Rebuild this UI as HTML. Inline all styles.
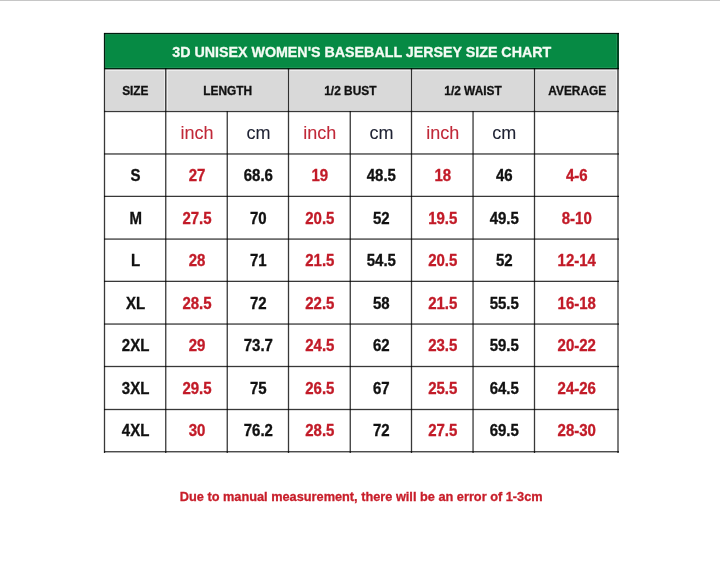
<!DOCTYPE html>
<html><head><meta charset="utf-8"><style>
html,body{margin:0;padding:0;background:#fff;width:720px;height:561px;overflow:hidden}
body{position:relative;font-family:"Liberation Sans",sans-serif}
.a{position:absolute}
.t{position:absolute;text-align:center;white-space:nowrap;display:flex;align-items:center;justify-content:center}
.v{position:absolute;width:1px;background:#222}
.h{position:absolute;height:1px;background:#222}
.b{font-weight:bold}
.t span{-webkit-text-stroke:var(--s,0.3px) currentColor;filter:blur(0.3px)}
</style></head><body>
<div class="a" style="left:104px;top:33px;width:515px;height:36px;background:#068a44"></div>
<div class="a" style="left:104px;top:69px;width:515px;height:42px;background:#d9d9d9"></div>
<div class="a" style="left:0;top:0;width:720px;height:1px;background:#c6c6c6"></div>
<div class="a" style="left:105px;top:70px;width:512px;height:1px;background:#ececec"></div>
<div class="a" style="left:105px;top:110px;width:512px;height:1px;background:#ececec"></div>
<div class="a" style="left:105px;top:70px;width:1px;height:41px;background:#ececec"></div>
<div class="a" style="left:164px;top:70px;width:1px;height:41px;background:#ececec"></div>
<div class="a" style="left:167px;top:70px;width:1px;height:41px;background:#ececec"></div>
<div class="a" style="left:287px;top:70px;width:1px;height:41px;background:#ececec"></div>
<div class="a" style="left:289px;top:70px;width:1px;height:41px;background:#ececec"></div>
<div class="a" style="left:410px;top:70px;width:1px;height:41px;background:#ececec"></div>
<div class="a" style="left:412px;top:70px;width:1px;height:41px;background:#ececec"></div>
<div class="a" style="left:533px;top:70px;width:1px;height:41px;background:#ececec"></div>
<div class="a" style="left:535px;top:70px;width:1px;height:41px;background:#ececec"></div>
<div class="a" style="left:616px;top:70px;width:1px;height:41px;background:#ececec"></div>
<div class="a" style="left:105px;top:34px;width:512px;height:1px;background:#1a9454"></div>
<div class="a" style="left:105px;top:67px;width:512px;height:1px;background:#1a9454"></div>
<div class="a" style="left:105px;top:34px;width:1px;height:34px;background:#1a9454"></div>
<div class="a" style="left:616px;top:34px;width:1px;height:34px;background:#1a9454"></div>
<div class="a" style="left:104px;top:32px;width:515px;height:1px;background:rgba(0,0,0,0.117)"></div>
<div class="a" style="left:104px;top:33px;width:515px;height:1px;background:rgba(0,0,0,0.780)"></div>
<div class="a" style="left:104px;top:34px;width:515px;height:1px;background:rgba(0,0,0,0.117)"></div>
<div class="a" style="left:104px;top:68px;width:515px;height:1px;background:rgba(0,0,0,0.741)"></div>
<div class="a" style="left:104px;top:69px;width:515px;height:1px;background:rgba(0,0,0,0.273)"></div>
<div class="a" style="left:104px;top:110px;width:515px;height:1px;background:rgba(0,0,0,0.117)"></div>
<div class="a" style="left:104px;top:111px;width:515px;height:1px;background:rgba(0,0,0,0.780)"></div>
<div class="a" style="left:104px;top:112px;width:515px;height:1px;background:rgba(0,0,0,0.117)"></div>
<div class="a" style="left:104px;top:153px;width:515px;height:1px;background:rgba(0,0,0,0.530)"></div>
<div class="a" style="left:104px;top:154px;width:515px;height:1px;background:rgba(0,0,0,0.484)"></div>
<div class="a" style="left:104px;top:195px;width:515px;height:1px;background:rgba(0,0,0,0.203)"></div>
<div class="a" style="left:104px;top:196px;width:515px;height:1px;background:rgba(0,0,0,0.780)"></div>
<div class="a" style="left:104px;top:238px;width:515px;height:1px;background:rgba(0,0,0,0.445)"></div>
<div class="a" style="left:104px;top:239px;width:515px;height:1px;background:rgba(0,0,0,0.569)"></div>
<div class="a" style="left:104px;top:280px;width:515px;height:1px;background:rgba(0,0,0,0.226)"></div>
<div class="a" style="left:104px;top:281px;width:515px;height:1px;background:rgba(0,0,0,0.780)"></div>
<div class="a" style="left:104px;top:323px;width:515px;height:1px;background:rgba(0,0,0,0.468)"></div>
<div class="a" style="left:104px;top:324px;width:515px;height:1px;background:rgba(0,0,0,0.546)"></div>
<div class="a" style="left:104px;top:365px;width:515px;height:1px;background:rgba(0,0,0,0.117)"></div>
<div class="a" style="left:104px;top:366px;width:515px;height:1px;background:rgba(0,0,0,0.780)"></div>
<div class="a" style="left:104px;top:367px;width:515px;height:1px;background:rgba(0,0,0,0.117)"></div>
<div class="a" style="left:104px;top:408px;width:515px;height:1px;background:rgba(0,0,0,0.117)"></div>
<div class="a" style="left:104px;top:409px;width:515px;height:1px;background:rgba(0,0,0,0.780)"></div>
<div class="a" style="left:104px;top:410px;width:515px;height:1px;background:rgba(0,0,0,0.117)"></div>
<div class="a" style="left:104px;top:451px;width:515px;height:1px;background:rgba(0,0,0,0.702)"></div>
<div class="a" style="left:104px;top:452px;width:515px;height:1px;background:rgba(0,0,0,0.312)"></div>
<div class="a" style="left:103px;top:33px;width:1px;height:420px;background:rgba(0,0,0,0.117)"></div>
<div class="a" style="left:104px;top:33px;width:1px;height:420px;background:rgba(0,0,0,0.780)"></div>
<div class="a" style="left:105px;top:33px;width:1px;height:420px;background:rgba(0,0,0,0.117)"></div>
<div class="a" style="left:165px;top:68px;width:1px;height:385px;background:rgba(0,0,0,0.702)"></div>
<div class="a" style="left:166px;top:68px;width:1px;height:385px;background:rgba(0,0,0,0.312)"></div>
<div class="a" style="left:226px;top:111px;width:1px;height:342px;background:rgba(0,0,0,0.312)"></div>
<div class="a" style="left:227px;top:111px;width:1px;height:342px;background:rgba(0,0,0,0.702)"></div>
<div class="a" style="left:287px;top:68px;width:1px;height:385px;background:rgba(0,0,0,0.117)"></div>
<div class="a" style="left:288px;top:68px;width:1px;height:385px;background:rgba(0,0,0,0.780)"></div>
<div class="a" style="left:289px;top:68px;width:1px;height:385px;background:rgba(0,0,0,0.117)"></div>
<div class="a" style="left:349px;top:111px;width:1px;height:342px;background:rgba(0,0,0,0.312)"></div>
<div class="a" style="left:350px;top:111px;width:1px;height:342px;background:rgba(0,0,0,0.702)"></div>
<div class="a" style="left:410px;top:68px;width:1px;height:385px;background:rgba(0,0,0,0.117)"></div>
<div class="a" style="left:411px;top:68px;width:1px;height:385px;background:rgba(0,0,0,0.780)"></div>
<div class="a" style="left:412px;top:68px;width:1px;height:385px;background:rgba(0,0,0,0.117)"></div>
<div class="a" style="left:472px;top:111px;width:1px;height:342px;background:rgba(0,0,0,0.468)"></div>
<div class="a" style="left:473px;top:111px;width:1px;height:342px;background:rgba(0,0,0,0.546)"></div>
<div class="a" style="left:533px;top:68px;width:1px;height:385px;background:rgba(0,0,0,0.117)"></div>
<div class="a" style="left:534px;top:68px;width:1px;height:385px;background:rgba(0,0,0,0.780)"></div>
<div class="a" style="left:535px;top:68px;width:1px;height:385px;background:rgba(0,0,0,0.117)"></div>
<div class="a" style="left:617px;top:33px;width:1px;height:420px;background:rgba(0,0,0,0.507)"></div>
<div class="a" style="left:618px;top:33px;width:1px;height:420px;background:rgba(0,0,0,0.507)"></div>
<div class="t" style="left:161.75px;top:21.70px;width:400px;height:60px;color:#f4fbf4;font-weight:bold;font-size:14.25px"><span style="display:inline-block">3D UNISEX WOMEN'S BASEBALL JERSEY SIZE CHART</span></div>
<div class="t" style="left:-64.38px;top:60.50px;width:400px;height:60px;color:#111;font-weight:bold;font-size:12px"><span style="display:inline-block;transform:scale(0.99,1.0)">SIZE</span></div>
<div class="t" style="left:27.62px;top:60.50px;width:400px;height:60px;color:#111;font-weight:bold;font-size:12px"><span style="display:inline-block;transform:scale(0.99,1.0)">LENGTH</span></div>
<div class="t" style="left:150.50px;top:60.50px;width:400px;height:60px;color:#111;font-weight:bold;font-size:12px"><span style="display:inline-block;transform:scale(0.99,1.0)">1/2 BUST</span></div>
<div class="t" style="left:273.50px;top:60.50px;width:400px;height:60px;color:#111;font-weight:bold;font-size:12px"><span style="display:inline-block;transform:scale(0.99,1.0)">1/2 WAIST</span></div>
<div class="t" style="left:376.75px;top:60.50px;width:400px;height:60px;color:#111;font-weight:bold;font-size:12px"><span style="display:inline-block;transform:scale(0.99,1.0)">AVERAGE</span></div>
<div class="t" style="left:-3.00px;top:103.24px;width:400px;height:60px;color:#c02838;font-size:18px;--s:0.1px"><span style="display:inline-block;transform:scale(1,1.04)">inch</span></div>
<div class="t" style="left:58.38px;top:103.24px;width:400px;height:60px;color:#1e2233;font-size:18px;--s:0.1px"><span style="display:inline-block;transform:scale(1,1.04)">cm</span></div>
<div class="t" style="left:119.88px;top:103.24px;width:400px;height:60px;color:#c02838;font-size:18px;--s:0.1px"><span style="display:inline-block;transform:scale(1,1.04)">inch</span></div>
<div class="t" style="left:181.38px;top:103.24px;width:400px;height:60px;color:#1e2233;font-size:18px;--s:0.1px"><span style="display:inline-block;transform:scale(1,1.04)">cm</span></div>
<div class="t" style="left:242.77px;top:103.24px;width:400px;height:60px;color:#c02838;font-size:18px;--s:0.1px"><span style="display:inline-block;transform:scale(1,1.04)">inch</span></div>
<div class="t" style="left:304.27px;top:103.24px;width:400px;height:60px;color:#1e2233;font-size:18px;--s:0.1px"><span style="display:inline-block;transform:scale(1,1.04)">cm</span></div>
<div class="t" style="left:-64.38px;top:145.48px;width:400px;height:60px;color:#111;font-weight:bold;font-size:15px"><span style="display:inline-block;transform:scale(1,1.06)">S</span></div>
<div class="t" style="left:-3.00px;top:145.48px;width:400px;height:60px;color:#c21b28;font-weight:bold;font-size:15px"><span style="display:inline-block;transform:scale(1,1.06)">27</span></div>
<div class="t" style="left:58.38px;top:145.48px;width:400px;height:60px;color:#111;font-weight:bold;font-size:15px"><span style="display:inline-block;transform:scale(1,1.06)">68.6</span></div>
<div class="t" style="left:119.88px;top:145.48px;width:400px;height:60px;color:#c21b28;font-weight:bold;font-size:15px"><span style="display:inline-block;transform:scale(1,1.06)">19</span></div>
<div class="t" style="left:181.38px;top:145.48px;width:400px;height:60px;color:#111;font-weight:bold;font-size:15px"><span style="display:inline-block;transform:scale(1,1.06)">48.5</span></div>
<div class="t" style="left:242.77px;top:145.48px;width:400px;height:60px;color:#c21b28;font-weight:bold;font-size:15px"><span style="display:inline-block;transform:scale(1,1.06)">18</span></div>
<div class="t" style="left:304.27px;top:145.48px;width:400px;height:60px;color:#111;font-weight:bold;font-size:15px"><span style="display:inline-block;transform:scale(1,1.06)">46</span></div>
<div class="t" style="left:376.75px;top:145.48px;width:400px;height:60px;color:#c21b28;font-weight:bold;font-size:15px"><span style="display:inline-block;transform:scale(1,1.06)">4-6</span></div>
<div class="t" style="left:-64.38px;top:188.04px;width:400px;height:60px;color:#111;font-weight:bold;font-size:15px"><span style="display:inline-block;transform:scale(1,1.06)">M</span></div>
<div class="t" style="left:-3.00px;top:188.04px;width:400px;height:60px;color:#c21b28;font-weight:bold;font-size:15px"><span style="display:inline-block;transform:scale(1,1.06)">27.5</span></div>
<div class="t" style="left:58.38px;top:188.04px;width:400px;height:60px;color:#111;font-weight:bold;font-size:15px"><span style="display:inline-block;transform:scale(1,1.06)">70</span></div>
<div class="t" style="left:119.88px;top:188.04px;width:400px;height:60px;color:#c21b28;font-weight:bold;font-size:15px"><span style="display:inline-block;transform:scale(1,1.06)">20.5</span></div>
<div class="t" style="left:181.38px;top:188.04px;width:400px;height:60px;color:#111;font-weight:bold;font-size:15px"><span style="display:inline-block;transform:scale(1,1.06)">52</span></div>
<div class="t" style="left:242.77px;top:188.04px;width:400px;height:60px;color:#c21b28;font-weight:bold;font-size:15px"><span style="display:inline-block;transform:scale(1,1.06)">19.5</span></div>
<div class="t" style="left:304.27px;top:188.04px;width:400px;height:60px;color:#111;font-weight:bold;font-size:15px"><span style="display:inline-block;transform:scale(1,1.06)">49.5</span></div>
<div class="t" style="left:376.75px;top:188.04px;width:400px;height:60px;color:#c21b28;font-weight:bold;font-size:15px"><span style="display:inline-block;transform:scale(1,1.06)">8-10</span></div>
<div class="t" style="left:-64.38px;top:230.52px;width:400px;height:60px;color:#111;font-weight:bold;font-size:15px"><span style="display:inline-block;transform:scale(1,1.06)">L</span></div>
<div class="t" style="left:-3.00px;top:230.52px;width:400px;height:60px;color:#c21b28;font-weight:bold;font-size:15px"><span style="display:inline-block;transform:scale(1,1.06)">28</span></div>
<div class="t" style="left:58.38px;top:230.52px;width:400px;height:60px;color:#111;font-weight:bold;font-size:15px"><span style="display:inline-block;transform:scale(1,1.06)">71</span></div>
<div class="t" style="left:119.88px;top:230.52px;width:400px;height:60px;color:#c21b28;font-weight:bold;font-size:15px"><span style="display:inline-block;transform:scale(1,1.06)">21.5</span></div>
<div class="t" style="left:181.38px;top:230.52px;width:400px;height:60px;color:#111;font-weight:bold;font-size:15px"><span style="display:inline-block;transform:scale(1,1.06)">54.5</span></div>
<div class="t" style="left:242.77px;top:230.52px;width:400px;height:60px;color:#c21b28;font-weight:bold;font-size:15px"><span style="display:inline-block;transform:scale(1,1.06)">20.5</span></div>
<div class="t" style="left:304.27px;top:230.52px;width:400px;height:60px;color:#111;font-weight:bold;font-size:15px"><span style="display:inline-block;transform:scale(1,1.06)">52</span></div>
<div class="t" style="left:376.75px;top:230.52px;width:400px;height:60px;color:#c21b28;font-weight:bold;font-size:15px"><span style="display:inline-block;transform:scale(1,1.06)">12-14</span></div>
<div class="t" style="left:-64.38px;top:273.01px;width:400px;height:60px;color:#111;font-weight:bold;font-size:15px"><span style="display:inline-block;transform:scale(1,1.06)">XL</span></div>
<div class="t" style="left:-3.00px;top:273.01px;width:400px;height:60px;color:#c21b28;font-weight:bold;font-size:15px"><span style="display:inline-block;transform:scale(1,1.06)">28.5</span></div>
<div class="t" style="left:58.38px;top:273.01px;width:400px;height:60px;color:#111;font-weight:bold;font-size:15px"><span style="display:inline-block;transform:scale(1,1.06)">72</span></div>
<div class="t" style="left:119.88px;top:273.01px;width:400px;height:60px;color:#c21b28;font-weight:bold;font-size:15px"><span style="display:inline-block;transform:scale(1,1.06)">22.5</span></div>
<div class="t" style="left:181.38px;top:273.01px;width:400px;height:60px;color:#111;font-weight:bold;font-size:15px"><span style="display:inline-block;transform:scale(1,1.06)">58</span></div>
<div class="t" style="left:242.77px;top:273.01px;width:400px;height:60px;color:#c21b28;font-weight:bold;font-size:15px"><span style="display:inline-block;transform:scale(1,1.06)">21.5</span></div>
<div class="t" style="left:304.27px;top:273.01px;width:400px;height:60px;color:#111;font-weight:bold;font-size:15px"><span style="display:inline-block;transform:scale(1,1.06)">55.5</span></div>
<div class="t" style="left:376.75px;top:273.01px;width:400px;height:60px;color:#c21b28;font-weight:bold;font-size:15px"><span style="display:inline-block;transform:scale(1,1.06)">16-18</span></div>
<div class="t" style="left:-64.38px;top:315.57px;width:400px;height:60px;color:#111;font-weight:bold;font-size:15px"><span style="display:inline-block;transform:scale(1,1.06)">2XL</span></div>
<div class="t" style="left:-3.00px;top:315.57px;width:400px;height:60px;color:#c21b28;font-weight:bold;font-size:15px"><span style="display:inline-block;transform:scale(1,1.06)">29</span></div>
<div class="t" style="left:58.38px;top:315.57px;width:400px;height:60px;color:#111;font-weight:bold;font-size:15px"><span style="display:inline-block;transform:scale(1,1.06)">73.7</span></div>
<div class="t" style="left:119.88px;top:315.57px;width:400px;height:60px;color:#c21b28;font-weight:bold;font-size:15px"><span style="display:inline-block;transform:scale(1,1.06)">24.5</span></div>
<div class="t" style="left:181.38px;top:315.57px;width:400px;height:60px;color:#111;font-weight:bold;font-size:15px"><span style="display:inline-block;transform:scale(1,1.06)">62</span></div>
<div class="t" style="left:242.77px;top:315.57px;width:400px;height:60px;color:#c21b28;font-weight:bold;font-size:15px"><span style="display:inline-block;transform:scale(1,1.06)">23.5</span></div>
<div class="t" style="left:304.27px;top:315.57px;width:400px;height:60px;color:#111;font-weight:bold;font-size:15px"><span style="display:inline-block;transform:scale(1,1.06)">59.5</span></div>
<div class="t" style="left:376.75px;top:315.57px;width:400px;height:60px;color:#c21b28;font-weight:bold;font-size:15px"><span style="display:inline-block;transform:scale(1,1.06)">20-22</span></div>
<div class="t" style="left:-64.38px;top:358.30px;width:400px;height:60px;color:#111;font-weight:bold;font-size:15px"><span style="display:inline-block;transform:scale(1,1.06)">3XL</span></div>
<div class="t" style="left:-3.00px;top:358.30px;width:400px;height:60px;color:#c21b28;font-weight:bold;font-size:15px"><span style="display:inline-block;transform:scale(1,1.06)">29.5</span></div>
<div class="t" style="left:58.38px;top:358.30px;width:400px;height:60px;color:#111;font-weight:bold;font-size:15px"><span style="display:inline-block;transform:scale(1,1.06)">75</span></div>
<div class="t" style="left:119.88px;top:358.30px;width:400px;height:60px;color:#c21b28;font-weight:bold;font-size:15px"><span style="display:inline-block;transform:scale(1,1.06)">26.5</span></div>
<div class="t" style="left:181.38px;top:358.30px;width:400px;height:60px;color:#111;font-weight:bold;font-size:15px"><span style="display:inline-block;transform:scale(1,1.06)">67</span></div>
<div class="t" style="left:242.77px;top:358.30px;width:400px;height:60px;color:#c21b28;font-weight:bold;font-size:15px"><span style="display:inline-block;transform:scale(1,1.06)">25.5</span></div>
<div class="t" style="left:304.27px;top:358.30px;width:400px;height:60px;color:#111;font-weight:bold;font-size:15px"><span style="display:inline-block;transform:scale(1,1.06)">64.5</span></div>
<div class="t" style="left:376.75px;top:358.30px;width:400px;height:60px;color:#c21b28;font-weight:bold;font-size:15px"><span style="display:inline-block;transform:scale(1,1.06)">24-26</span></div>
<div class="t" style="left:-64.38px;top:400.93px;width:400px;height:60px;color:#111;font-weight:bold;font-size:15px"><span style="display:inline-block;transform:scale(1,1.06)">4XL</span></div>
<div class="t" style="left:-3.00px;top:400.93px;width:400px;height:60px;color:#c21b28;font-weight:bold;font-size:15px"><span style="display:inline-block;transform:scale(1,1.06)">30</span></div>
<div class="t" style="left:58.38px;top:400.93px;width:400px;height:60px;color:#111;font-weight:bold;font-size:15px"><span style="display:inline-block;transform:scale(1,1.06)">76.2</span></div>
<div class="t" style="left:119.88px;top:400.93px;width:400px;height:60px;color:#c21b28;font-weight:bold;font-size:15px"><span style="display:inline-block;transform:scale(1,1.06)">28.5</span></div>
<div class="t" style="left:181.38px;top:400.93px;width:400px;height:60px;color:#111;font-weight:bold;font-size:15px"><span style="display:inline-block;transform:scale(1,1.06)">72</span></div>
<div class="t" style="left:242.77px;top:400.93px;width:400px;height:60px;color:#c21b28;font-weight:bold;font-size:15px"><span style="display:inline-block;transform:scale(1,1.06)">27.5</span></div>
<div class="t" style="left:304.27px;top:400.93px;width:400px;height:60px;color:#111;font-weight:bold;font-size:15px"><span style="display:inline-block;transform:scale(1,1.06)">69.5</span></div>
<div class="t" style="left:376.75px;top:400.93px;width:400px;height:60px;color:#c21b28;font-weight:bold;font-size:15px"><span style="display:inline-block;transform:scale(1,1.06)">28-30</span></div>
<div class="t" style="left:1.2px;top:486.8px;width:720px;height:20px;color:#c81e2a;font-weight:bold;font-size:12.76px"><span>Due to manual measurement, there will be an error of 1-3cm</span></div>
</body></html>
